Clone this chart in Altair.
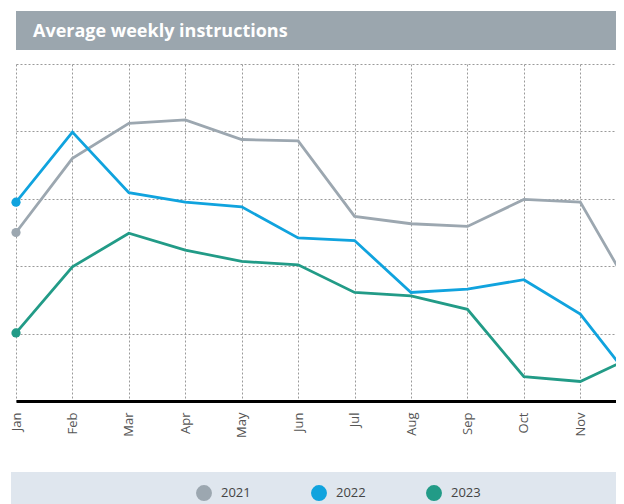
import altair as alt
import pandas as pd

months = ["Jan", "Feb", "Mar", "Apr", "May", "Jun", "Jul", "Aug", "Sep", "Oct", "Nov", "Dec"]
years = ["2021", "2022", "2023"]
v2021 = [25.0, 36.0, 41.2, 41.7, 38.8, 38.6, 27.4, 26.3, 25.9, 29.9, 29.5, 15.0]
v2022 = [29.5, 39.9, 30.9, 29.5, 28.8, 24.2, 23.8, 16.1, 16.6, 18.0, 12.9, 2.2]
v2023 = [10.1, 19.9, 24.9, 22.4, 20.7, 20.2, 16.1, 15.6, 13.6, 3.6, 2.9, 6.8]
colors = ["#9ca7b0", "#10a3de", "#229b87"]
title_text = "Average weekly instructions"

rows = []
for yr, vals in zip(years, [v2021, v2022, v2023]):
    for i, (m, v) in enumerate(zip(months, vals)):
        rows.append({"year": yr, "idx": i, "month": m, "value": v})
df = pd.DataFrame(rows)

W, H = 600, 337
xmax = 600 / 56.43
FONT = "Open Sans"
label_expr = "[" + ",".join(f"'{m}'" for m in months) + "][datum.value]"

x = alt.X(
    "idx:Q",
    title=None,
    scale=alt.Scale(domain=[0, xmax], nice=False, zero=False),
    axis=alt.Axis(
        values=list(range(11)), labelExpr=label_expr, labelAngle=-90,
        labelFont=FONT, labelFontSize=13, labelColor="#555555", labelPadding=11,
        ticks=False, domainColor="#000000", domainWidth=3,
        grid=True, gridDash=[2, 2], gridColor="#9a9a9a", gridWidth=1,
    ),
)
y = alt.Y(
    "value:Q",
    title=None,
    scale=alt.Scale(domain=[0, 50], nice=False),
    axis=alt.Axis(
        values=[0, 10, 20, 30, 40, 50], labels=False, ticks=False, domain=False,
        grid=True, gridDash=[2, 2], gridColor="#9a9a9a", gridWidth=1,
    ),
)
color_scale = alt.Scale(domain=years, range=colors)

base = alt.Chart(df)

line_layers = [
    base.transform_filter(alt.datum.year == yr)
    .mark_line(strokeWidth=2.8, clip=True, color=c)
    .encode(x=x, y=y)
    for yr, c in zip(years, colors)
]

points = base.transform_filter("datum.idx == 0").mark_circle(size=85, opacity=1).encode(
    x=x, y=y,
    fill=alt.Fill(
        "year:N", scale=color_scale,
        legend=alt.Legend(
            orient="none", legendX=180, legendY=421, direction="horizontal",
            title=None, symbolType="circle", symbolSize=254, symbolStrokeWidth=0,
            symbolOpacity=1, labelFont=FONT, labelFontSize=13, labelColor="#444444",
            labelOffset=9, columnPadding=60, padding=0,
        ),
    ),
)

deco = alt.Chart(pd.DataFrame({"t": [title_text]}))
title_bar = deco.mark_rect(color="#9ba6ae").encode(
    x=alt.value(0), x2=alt.value(W), y=alt.value(-53), y2=alt.value(-14)
)
title_txt = deco.mark_text(
    color="white", font=FONT, fontSize=18, fontWeight="bold", align="left", baseline="alphabetic"
).encode(x=alt.value(17), y=alt.value(-27), text="t:N")
legend_bar = deco.mark_rect(color="#dfe6ee").encode(
    x=alt.value(-5), x2=alt.value(W), y=alt.value(408), y2=alt.value(440)
)

chart = alt.layer(legend_bar, title_bar, title_txt, *line_layers, points).properties(
    width=W, height=H,
    padding={"left": 8, "top": 56, "right": 0, "bottom": 103},
    autosize=alt.AutoSizeParams(type="none"),
).configure_view(stroke=None)

chart.save("out.html", embed_options={"renderer": "svg", "actions": False})
